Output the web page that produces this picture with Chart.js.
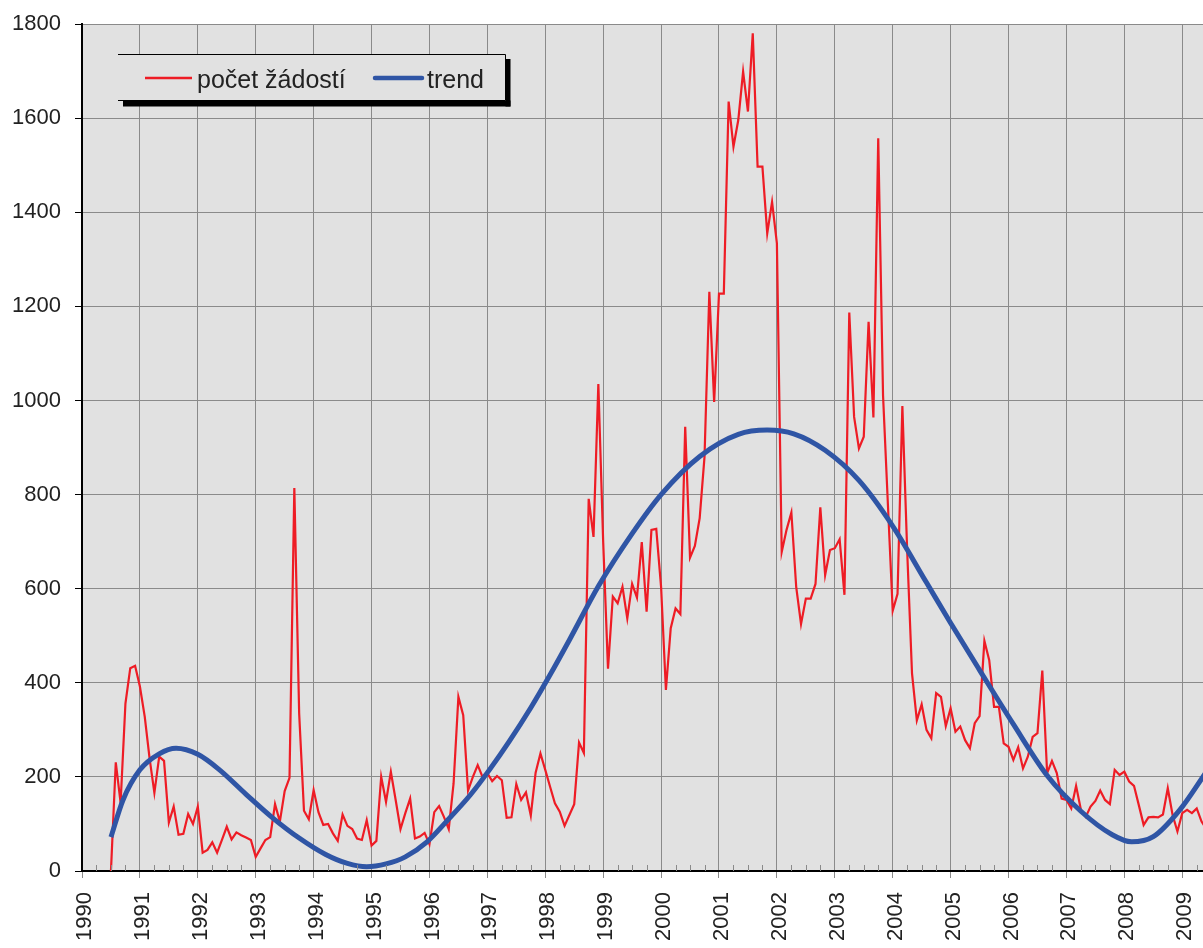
<!DOCTYPE html>
<html>
<head>
<meta charset="utf-8">
<script src="https://cdn.jsdelivr.net/npm/chart.js@4.4.1/dist/chart.umd.min.js"></script>
<style>
  html, body { margin: 0; padding: 0; background: #ffffff; }
  #wrap { width: 1203px; height: 948px; position: relative; }
</style>
</head>
<body>
<div id="wrap"><canvas id="zadostiCanvas"></canvas></div>
<script>
// months counted from January 1990 (0 = 1/1990)
const firstMonth = 6;
const startYear = 1990;

// monthly number of applications, July 1990 .. 2009
const pocetZadosti = [
    0, 231, 145, 356, 431, 436,
    392, 328, 240, 166, 243, 234, 103, 137, 77, 79, 121, 100,
    137, 39, 45, 61, 39, 66, 94, 67, 82, 76, 71, 66,
    30, 48, 66, 72, 142, 105, 170, 198, 814, 335, 128, 110,
    172, 125, 98, 100, 80, 64, 120, 96, 89, 69, 66, 108,
    54, 64, 200, 147, 211, 151, 89, 123, 154, 69, 73, 81,
    57, 125, 138, 115, 89, 186, 370, 331, 171, 200, 225, 200,
    208, 191, 202, 193, 113, 114, 185, 151, 167, 118, 209, 250,
    215, 179, 144, 126, 96, 119, 142, 273, 251, 791, 710, 1035,
    700, 430, 583, 569, 604, 537, 610, 581, 699, 551, 725, 727,
    604, 385, 516, 558, 546, 944, 666, 691, 750, 880, 1231, 997,
    1227, 1227, 1635, 1539, 1596, 1699, 1614, 1780, 1497, 1497, 1355, 1422,
    1334, 678, 725, 762, 604, 525, 579, 579, 610, 773, 629, 682,
    686, 705, 587, 1187, 965, 898, 923, 1167, 964, 1557, 1010, 780,
    553, 589, 988, 680, 420, 320, 354, 300, 282, 378, 370, 308,
    346, 296, 307, 278, 261, 314, 329, 489, 448, 349, 349, 271,
    264, 236, 263, 218, 243, 285, 293, 426, 208, 234, 208, 154,
    151, 133, 181, 130, 115, 137, 149, 171, 151, 142, 215, 204,
    211, 190, 181, 140, 98, 114, 115, 114, 120, 176, 119, 84,
    123, 130, 123, 133, 105, 90
];

// trend curve (month, value)
const trendMonths = [6, 8.5, 12, 16, 19.5, 24, 28.5, 34, 39.5, 45, 50.5, 55, 59, 63, 67, 71.5, 75.5,
    80.5, 84.5, 88.5, 93, 97, 101, 107, 114, 120, 128, 136, 142, 147.5, 154, 161, 168, 175,
    180, 186, 193, 200, 207, 213.5, 217.5, 222, 227.5, 233];
const trendValues = [72, 151, 215, 249, 261, 248, 215, 163, 113, 70, 35, 16, 9, 15, 30, 62, 105,
    162, 216, 275, 347, 417, 491, 605, 717, 800, 881, 928, 937, 929, 894, 830, 733, 613,
    527, 427, 312, 203, 127, 77, 62, 73, 130, 211];

const xTicks = [0, 12, 24, 36, 48, 60, 72, 84, 96, 108, 120, 132, 144, 156, 168, 180, 192, 204, 216, 228];
const yTicks = [0, 200, 400, 600, 800, 1000, 1200, 1400, 1600, 1800];

const GRID = '#8a8a8a';
const PLOT_BG = '#e1e1e1';
const RED = '#ee1c25';
const BLUE = '#2f55a5';

Chart.defaults.font.family = "'Liberation Sans', Arial, sans-serif";
Chart.defaults.color = '#222222';

let zadostiPoints = pocetZadosti.map((v, i) => ({ x: firstMonth + i, y: v }));
let trendPoints = trendMonths.map((m, i) => ({ x: m, y: trendValues[i] }));

// plot background
const plotBackground = {
    id: 'plotBackground',
    beforeDraw(chart) {
        const a = chart.chartArea;
        const ctx = chart.ctx;
        ctx.save();
        ctx.fillStyle = PLOT_BG;
        ctx.fillRect(a.left, a.top, a.right - a.left, a.bottom - a.top);
        ctx.restore();
    }
};

// quarter ticks inside the plot, above the x axis
const quarterTicks = {
    id: 'quarterTicks',
    afterDraw(chart) {
        const xs = chart.scales.x;
        const ctx = chart.ctx;
        const bottom = chart.chartArea.bottom;
        ctx.save();
        ctx.strokeStyle = GRID;
        ctx.lineWidth = 1;
        for (let m = 3; m <= xs.max; m += 3) {
            if (m % 12 === 0) continue;
            const px = Math.round(xs.getPixelForValue(m)) + 0.5;
            ctx.beginPath();
            ctx.moveTo(px, bottom - 6);
            ctx.lineTo(px, bottom);
            ctx.stroke();
        }
        ctx.restore();
    }
};

// legend box with shadow, inside the plot
const boxLegend = {
    id: 'boxLegend',
    afterDraw(chart) {
        const ctx = chart.ctx;
        const ds = chart.data.datasets;
        const left = 118, top = 54, right = 505.5, bottom = 100.5;
        ctx.save();
        ctx.fillStyle = '#000000';
        ctx.fillRect(left + 5, bottom, right - left, 6);
        ctx.fillRect(right, top + 5, 5, bottom - top + 1);
        ctx.fillStyle = PLOT_BG;
        ctx.fillRect(left, top, right - left, bottom - top);
        ctx.strokeStyle = '#000000';
        ctx.lineWidth = 1;
        ctx.beginPath();
        ctx.moveTo(left, top + 0.5);
        ctx.lineTo(right, top + 0.5);
        ctx.lineTo(right, bottom);
        ctx.lineTo(left, bottom);
        ctx.stroke();

        ctx.font = "25px 'Liberation Sans', Arial, sans-serif";
        ctx.textBaseline = 'alphabetic';
        ctx.fillStyle = '#222222';

        ctx.strokeStyle = ds[0].borderColor;
        ctx.lineWidth = 2.5;
        ctx.beginPath();
        ctx.moveTo(145, 78);
        ctx.lineTo(192, 78);
        ctx.stroke();
        ctx.fillText(ds[0].label, 197, 88);

        ctx.strokeStyle = ds[1].borderColor;
        ctx.lineWidth = 4.5;
        ctx.lineCap = 'round';
        ctx.beginPath();
        ctx.moveTo(375, 78);
        ctx.lineTo(422, 78);
        ctx.stroke();
        ctx.fillText(ds[1].label, 427, 88);
        ctx.restore();
    }
};

let chartZadosti = new Chart(document.getElementById('zadostiCanvas').getContext('2d'), {
    type: 'line',
    data: {
        datasets: [
            {
                label: 'počet žádostí',
                data: zadostiPoints,
                borderColor: RED,
                borderWidth: 2.2,
                pointRadius: 0,
                tension: 0,
                order: 2
            },
            {
                label: 'trend',
                data: trendPoints,
                borderColor: BLUE,
                borderWidth: 5,
                pointRadius: 0,
                cubicInterpolationMode: 'monotone',
                order: 1
            }
        ]
    },
    options: {
        responsive: true,
        maintainAspectRatio: false,
        animation: false,
        layout: { padding: { top: 24, right: 0, left: 0, bottom: 0 } },
        plugins: {
            legend: { display: false },
            tooltip: { enabled: false }
        },
        scales: {
            x: {
                type: 'linear',
                min: 0,
                max: 232.3,
                afterBuildTicks: scale => { scale.ticks = xTicks.map(v => ({ value: v })); },
                afterFit: scale => {
                    scale.height = 77;
                    scale.paddingLeft = 0;
                    scale.paddingRight = 0;
                },
                border: { display: true, color: '#000000', width: 2 },
                grid: {
                    color: GRID,
                    tickColor: GRID,
                    tickLength: 7,
                    lineWidth: 1
                },
                ticks: {
                    autoSkip: false,
                    minRotation: 90,
                    maxRotation: 90,
                    padding: 14,
                    labelOffset: 3,
                    font: { size: 22 },
                    color: '#222222',
                    callback: v => String(startYear + v / 12)
                }
            },
            y: {
                min: 0,
                max: 1800,
                afterBuildTicks: scale => { scale.ticks = yTicks.map(v => ({ value: v })); },
                afterFit: scale => {
                    scale.width = 82;
                    scale.paddingTop = 0;
                    scale.paddingBottom = 0;
                },
                border: { display: true, color: '#000000', width: 2 },
                grid: {
                    color: GRID,
                    tickColor: '#000000',
                    tickLength: 7,
                    lineWidth: 1
                },
                ticks: {
                    padding: 14,
                    font: { size: 22 },
                    color: '#222222',
                    callback: v => String(v)
                }
            }
        }
    },
    plugins: [plotBackground, quarterTicks, boxLegend]
});
</script>
</body>
</html>
